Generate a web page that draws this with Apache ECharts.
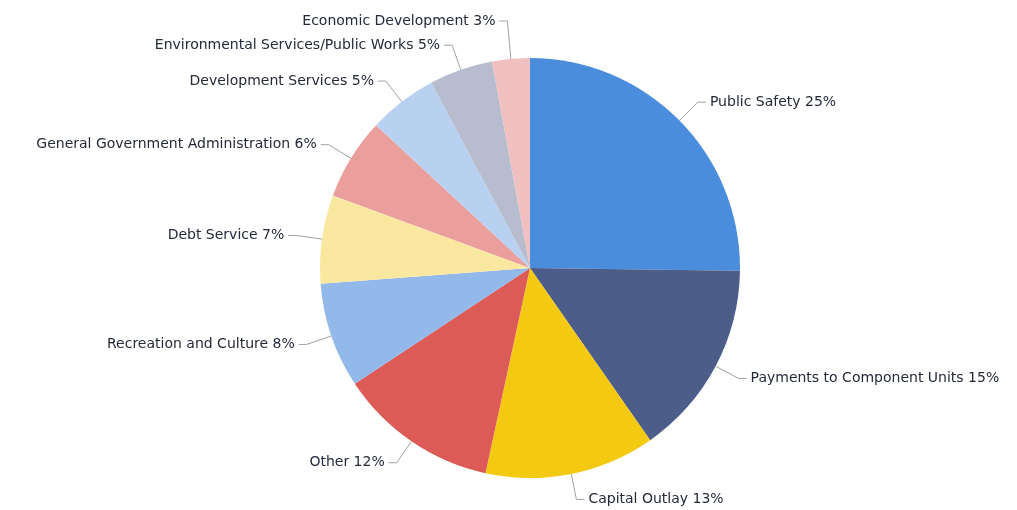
<!DOCTYPE html>
<html>
<head>
<meta charset="utf-8">
<script src="https://cdn.jsdelivr.net/npm/echarts@6/dist/echarts.min.js"></script>
<style>html,body{margin:0;padding:0;background:#fff;}#c{width:1017px;height:510px;}</style>
</head>
<body>
<div id="c"></div>
<script>
const categories = ["Public Safety","Payments to Component Units","Capital Outlay","Other","Recreation and Culture","Debt Service","General Government Administration","Development Services","Environmental Services/Public Works","Economic Development"];
const values = [25.2, 15.1, 13.1, 12.3, 8.1, 6.8, 6.3, 5.3, 4.9, 2.9];
const colors = ["#4A8DDC","#4C5D8A","#F3C911","#DC5B57","#93B9EA","#FAE8A0","#EA9F9C","#B8D1F1","#B7BDCF","#F0BFBF"];
const total = values.reduce((a,b)=>a+b,0);
const chart = echarts.init(document.getElementById('c'));
chart.setOption({
  animation:false,
  series:[{
    type:'pie',
    center:[530,268],
    radius:[0,210],
    startAngle:90,
    clockwise:true,
    color:colors,
    data:categories.map((n,i)=>{
      const d={name:n,value:values[i]};
      if(i===categories.length-1) d.labelLine={length:38};
      return d;
    }),
    label:{
      show:true,
      fontFamily:'DejaVu Sans',
      fontSize:14,
      color:'#252a3b',
      distanceToLabelLine:4,
      formatter:p=>p.name+' '+Math.round(p.value/total*100)+'%'
    },
    labelLine:{show:true,length:26,length2:8,lineStyle:{color:'#a0a0a0',width:1}},
    itemStyle:{borderWidth:0},
    emphasis:{disabled:true}
  }]
});
</script>
</body>
</html>
